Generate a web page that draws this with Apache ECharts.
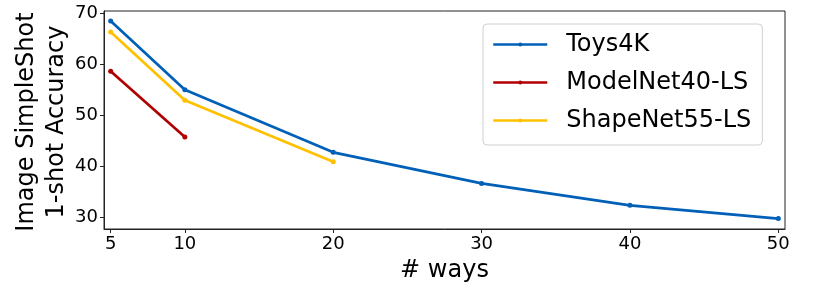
<!DOCTYPE html>
<html>
<head>
<meta charset="utf-8">
<script src="https://cdn.jsdelivr.net/npm/echarts@6/dist/echarts.min.js"></script>
<style>html,body{margin:0;padding:0;background:#fff;}#c{width:830px;height:288px;}</style>
</head>
<body>
<div id="c"></div>
<script>
const ways = [5, 10, 20, 30, 40, 50];
const toys4k = [68.5, 55.0, 42.7, 36.6, 32.3, 29.7];
const modelnet40 = [58.6, 45.7];
const shapenet55 = [66.35, 52.95, 40.85];
const xTicks = [5, 10, 20, 30, 40, 50];
const yTicks = [30, 40, 50, 60, 70];
const seriesNames = ['Toys4K', 'ModelNet40-LS', 'ShapeNet55-LS'];
const colors = ['#0060B8', '#B00000', '#FFC000'];

function pairs(vals) { return vals.map((v, i) => [ways[i], v]); }
const allData = [toys4k, modelnet40, shapenet55];
const font = 'DejaVu Sans';

const chart = echarts.init(document.getElementById('c'), null, {renderer: 'canvas'});
chart.setOption({
  animation: false,
  backgroundColor: '#fff',
  grid: {left: 104, right: 45, top: 11, bottom: 58, show: true, borderColor: '#222', borderWidth: 1, backgroundColor: 'transparent'},
  xAxis: {
    type: 'value', min: 4.55, max: 50.45,
    splitLine: {show: false},
    axisLine: {show: true, onZero: false, lineStyle: {color: '#222', width: 1}},
    axisTick: {show: true, inside: false, length: 4, customValues: xTicks, lineStyle: {color: '#222'}},
    axisLabel: {customValues: xTicks, fontFamily: font, fontSize: 18, color: '#000', margin: 6},
    name: '# ways', nameLocation: 'middle', nameGap: 30,
    nameTextStyle: {fontFamily: font, fontSize: 24, color: '#000'}
  },
  yAxis: {
    type: 'value', min: 27.65, max: 70.45,
    splitLine: {show: false},
    axisLine: {show: true, onZero: false, lineStyle: {color: '#222', width: 1}},
    axisTick: {show: true, inside: false, length: 4, customValues: yTicks, lineStyle: {color: '#222'}},
    axisLabel: {customValues: yTicks, fontFamily: font, fontSize: 18, color: '#000', margin: 6}
  },
  graphic: [{
    type: 'text', x: 42, y: 122, rotation: Math.PI / 2,
    style: {text: 'Image SimpleShot\n1-shot Accuracy', fontFamily: font, fontSize: 24, lineHeight: 30, fill: '#000', align: 'center', verticalAlign: 'middle'}
  }],
  legend: {
    orient: 'vertical', left: 483, top: 24,
    data: seriesNames,
    itemWidth: 54, itemHeight: 5, itemGap: 13,
    padding: [8, 11, 12, 9],
    backgroundColor: '#fff', borderColor: '#d0d0d0', borderWidth: 1, borderRadius: 4,
    lineStyle: {width: 2.5},
    textStyle: {fontFamily: font, fontSize: 24, color: '#000', padding: [0, 0, 0, 14], lineHeight: 25}
  },
  series: seriesNames.map((n, i) => ({
    name: n, type: 'line', data: pairs(allData[i]),
    color: colors[i],
    lineStyle: {width: 2.7, color: colors[i]},
    itemStyle: {color: colors[i]},
    symbol: 'circle', symbolSize: 5, showSymbol: true
  }))
});
</script>
</body>
</html>
